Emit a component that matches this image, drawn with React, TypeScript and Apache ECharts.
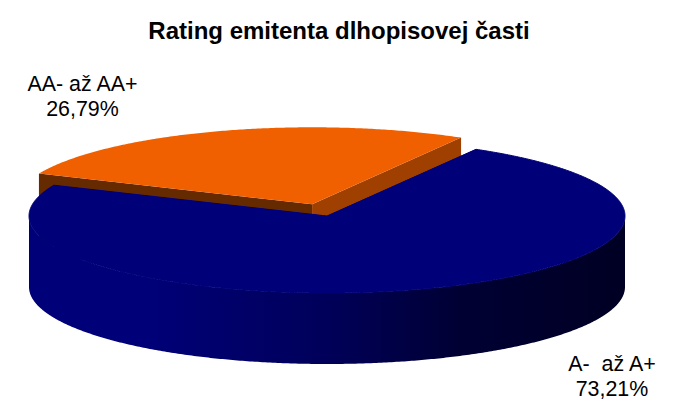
import React, { useEffect, useRef } from "react";
import * as echarts from "echarts";

const categories = ["AA- až AA+", "A-  až A+"];
const shares = [26.79, 73.21];

const COLORS = [
  { top: "#F06000", cutA: "#A04000", cutB: "#662A00", seam: 0 },
  { top: "#000078", cutA: "#000078", cutB: "#000078", seam: 1 },
];
const WALL_STOPS = [
  { offset: 0, color: "#000078" },
  { offset: 0.2, color: "#000078" },
  { offset: 0.5, color: "#00005A" },
  { offset: 0.72, color: "#000034" },
  { offset: 1, color: "#000024" },
];
const CX = 327, CY = 216, RX = 298, RY = 77, DEPTH = 71;
const START_DEG = 60;
const EXPLODE = 0.16;
const LABELS = [
  { x: 82.5, y: 71 },
  { x: 612, y: 351 },
];

const rad = (d: number) => (d * Math.PI) / 180;
const total = shares.reduce((a, b) => a + b, 0);

function arc(cx: number, cy: number, from: number, to: number) {
  const pts: number[][] = [];
  const n = Math.max(2, Math.ceil(Math.abs(to - from) * 2));
  for (let i = 0; i <= n; i++) {
    const a = rad(from + ((to - from) * i) / n);
    pts.push([cx + RX * Math.cos(a), cy - RY * Math.sin(a)]);
  }
  return pts;
}

function renderSlice(params: any, api: any) {
  const i = params.dataIndex;
  const before = shares.slice(0, i).reduce((a, b) => a + b, 0);
  const from = START_DEG + (before / total) * 360;
  const to = from + (api.value(0) / total) * 360;
  const mid = rad((from + to) / 2);
  const explode = i === 0 ? EXPLODE : 0;
  const cx = CX + RX * explode * Math.cos(mid);
  const cy = CY - RY * explode * Math.sin(mid);
  const c = COLORS[i];
  const children: any[] = [];

  const cut = (deg: number, fill: string) => {
    const a = rad(deg);
    const ex = cx + RX * Math.cos(a);
    const ey = cy - RY * Math.sin(a);
    children.push({
      type: "polygon",
      shape: { points: [[cx, cy], [ex, ey], [ex, ey + DEPTH], [cx, cy + DEPTH]] },
      style: { fill },
    });
  };
  cut(to, c.cutB);
  cut(from, c.cutA);

  // Outer wall: only the part on the front half of the ellipse faces the viewer.
  const wFrom = Math.max(from, 180);
  const wTo = Math.min(to, 360);
  if (wTo > wFrom) {
    const upper = arc(cx, cy, wFrom, wTo);
    const lower = arc(cx, cy + DEPTH, wTo, wFrom);
    children.push({
      type: "polygon",
      shape: { points: upper.concat(lower) },
      style: {
        fill: new echarts.graphic.LinearGradient(0, 0, 1, 0, WALL_STOPS),
      },
    });
  }

  children.push({
    type: "polygon",
    shape: { points: [[cx, cy], ...arc(cx, cy, from, to)] },
    style: {
      fill: c.top,
      stroke: c.seam ? c.top : "none",
      lineWidth: c.seam,
      lineJoin: "round",
    },
  });

  const pct = shares[i].toFixed(2).replace(".", ",") + "%";
  children.push({
    type: "text",
    style: {
      text: categories[i] + "\n" + pct,
      x: LABELS[i].x,
      y: LABELS[i].y,
      fill: "#000000",
      font: "21.4px 'Liberation Sans', Arial, sans-serif",
      lineHeight: 25,
      align: "center",
      verticalAlign: "top",
      textAlign: "center",
      textVerticalAlign: "top",
    },
  });
  return { type: "group", children };
}

export default function App() {
  const ref = useRef<HTMLDivElement>(null);
  useEffect(() => {
    const chart = echarts.init(ref.current!, undefined, { renderer: "svg" });
    chart.setOption({
      animation: false,
      backgroundColor: "#ffffff",
      title: {
        text: "Rating emitenta dlhopisovej časti",
        left: 334,
        textAlign: "center",
        top: 13,
        textStyle: {
          fontFamily: "'Liberation Sans', Arial, sans-serif",
          fontSize: 24,
          fontWeight: "bold",
          color: "#000000",
        },
      },
      series: [
        {
          type: "custom",
          coordinateSystem: "none",
          silent: true,
          renderItem: renderSlice,
          data: shares.map((v, i) => ({ name: categories[i], value: [v] })),
        },
      ],
    });
    return () => chart.dispose();
  }, []);
  return (
    <div
      ref={ref}
      style={{ position: "fixed", left: 0, top: 0, width: 673, height: 404 }}
    />
  );
}
